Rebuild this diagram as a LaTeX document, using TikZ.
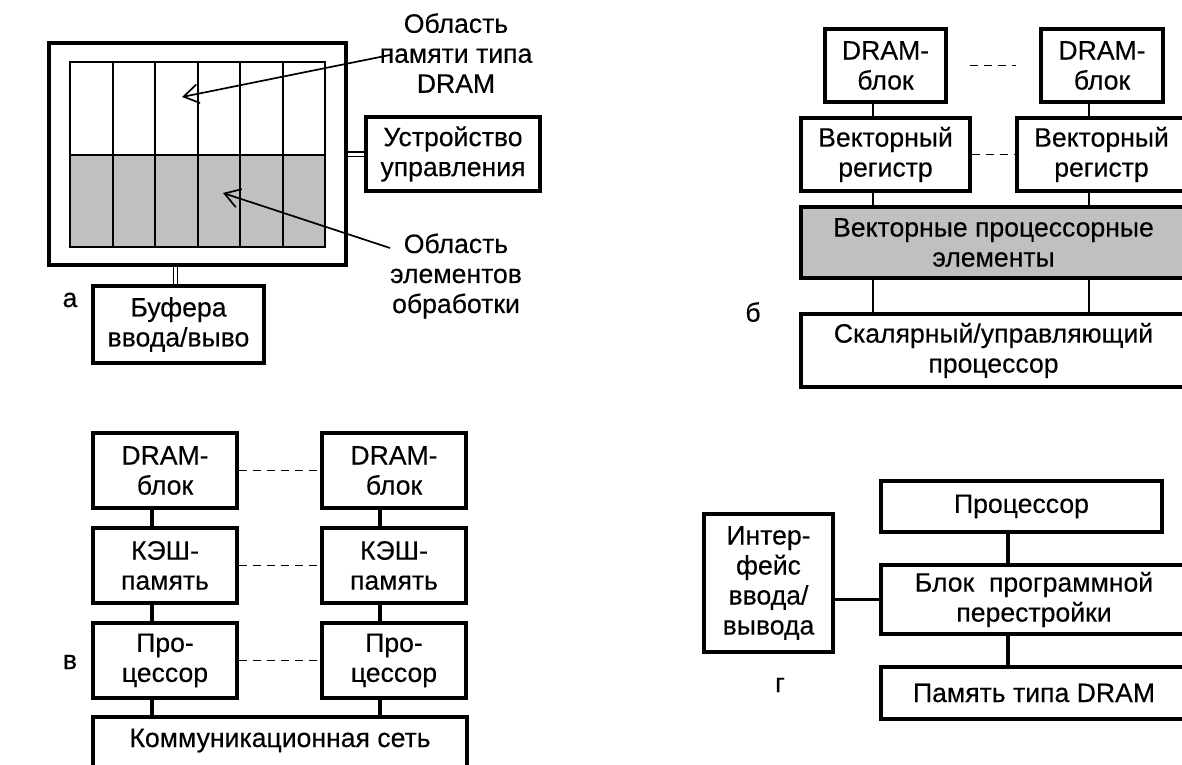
\documentclass[tikz,border=0pt]{standalone}
\usepackage{fontspec}
\setmainfont{Liberation Sans}[FakeBold=0.3]
\usetikzlibrary{arrows.meta}
\definecolor{peGray}{RGB}{192,192,192}
\begin{document}
\begin{tikzpicture}[x=1bp,y=-1bp,
  lbl/.style={font=\fontsize{26.6bp}{30bp}\selectfont, align=center, inner sep=0pt},
  box/.style={lbl, draw, line width=3.2bp},
  thinlink/.style={line width=1.7bp},
  thicklink/.style={line width=3.2bp},
  dotlink/.style={line width=1.7bp, dash pattern=on 8bp off 6bp},
  dbl/.style={double, double distance=3bp, line width=1.4bp},
  pointer/.style={line width=1.7bp, -{Straight Barb[length=15bp,width=19bp,line width=1.7bp]}},
  cell/.style={line width=2bp}
]
\useasboundingbox (0,0) rectangle (1182,765);
\clip (0,0) rectangle (1182,765);

% ---------- (а) memory chip with processing elements ----------
\node[box, line width=3.6bp, minimum width=297bp, minimum height=222bp] (frame) at (197.5,154) {};
\fill[peGray] (70,155) rectangle (325,247);
\draw[cell] (70,62) rectangle (325,247);
\draw[cell] (70,155) -- (325,155);
\foreach \i in {1,...,5} \draw[cell] ({70+42.5*\i},62) -- ({70+42.5*\i},247);

\node[box, minimum width=174bp, minimum height=74bp] (ctrl) at (453,154) {Устройство\\управления};
\node[box, minimum width=171bp, minimum height=77bp] (buf) at (178.5,324.5) {Буфера\\ввода/выво};
\node[lbl] (dramArea) at (456,53) {Область\\памяти типа\\DRAM};
\node[lbl] (peArea) at (456,276) {Область\\элементов\\обработки};
\node[lbl] (capA) at (70,300) {а};

\draw[dbl] (frame.east) -- (ctrl.west);
\draw[dbl] ([xshift=-3bp]buf.north) -- ([xshift=-3bp]buf.north |- frame.south);

\coordinate (tailA) at (390,55);
\coordinate (tipA) at (182,97);
\coordinate (tailB) at (390,248);
\coordinate (tipB) at (223,193);
\draw[pointer] (tailA) -- (tipA);
\draw[pointer] (tailB) -- (tipB);

% ---------- (б) vector processor in memory ----------
\node[box, minimum width=121bp, minimum height=73bp] (d1) at (885.5,65.5) {DRAM-\\блок};
\node[box, minimum width=122bp, minimum height=73bp] (d2) at (1102,65.5) {DRAM-\\блок};
\node[box, minimum width=169bp, minimum height=73bp] (v1) at (885.5,154.5) {Векторный\\регистр};
\node[box, minimum width=169bp, minimum height=73bp] (v2) at (1101.5,154.5) {Векторный\\регистр};
\node[box, fill=peGray, minimum width=385bp, minimum height=71bp] (vpe) at (993.5,242.5) {Векторные процессорные\\элементы};
\node[box, minimum width=385bp, minimum height=73bp] (scal) at (993.5,350.5) {Скалярный/управляющий\\процессор};
\node[lbl] (capB) at (753,312) {б};

\coordinate (colB1) at (873,0);
\coordinate (colB2) at (1089,0);
\foreach \c/\top/\mid in {colB1/d1/v1, colB2/d2/v2} {
  \draw[thinlink] (\top.south -| \c) -- (\mid.north -| \c);
  \draw[thinlink] (\mid.south -| \c) -- (vpe.north -| \c);
  \draw[thinlink] (vpe.south -| \c) -- (scal.north -| \c);
}
\draw[dotlink] ([xshift=22bp]d1.east) -- ([xshift=-23bp]d2.west);
\draw[dotlink] (v1.east) -- (v2.west);

% ---------- (в) multiprocessor with cache ----------
\foreach \s/\x in {l/165, r/394} {
  \node[box, minimum width=144bp, minimum height=75bp] (\s1) at (\x,470.5) {DRAM-\\блок};
  \node[box, minimum width=144bp, minimum height=75bp] (\s2) at (\x,565.5) {КЭШ-\\память};
  \node[box, minimum width=144bp, minimum height=75bp] (\s3) at (\x,660.5) {Про-\\цессор};
}
\node[box, minimum width=374bp, minimum height=74bp, text height=19bp, text depth=33bp] (net) at (280,754) {Коммуникационная сеть};
\node[lbl] (capC) at (70,662) {в};

\coordinate (colC1) at (152,0);
\coordinate (colC2) at (380,0);
\foreach \c/\s in {colC1/l, colC2/r} {
  \draw[thicklink] (\s1.south -| \c) -- (\s2.north -| \c);
  \draw[thicklink] (\s2.south -| \c) -- (\s3.north -| \c);
  \draw[thicklink] (\s3.south -| \c) -- (net.north -| \c);
}
\foreach \i in {1,2,3} \draw[dotlink] (l\i.east) -- (r\i.west);

% ---------- (г) reconfigurable processor ----------
\node[box, minimum width=281bp, minimum height=51bp] (proc) at (1021.5,506.5) {Процессор};
\node[box, minimum width=129bp, minimum height=138bp] (io) at (768.5,583) {Интер-\\фейс\\ввода/\\вывода};
\node[box, minimum width=306bp, minimum height=69bp] (reconf) at (1034,599.5) {Блок\ \ программной\\перестройки};
\node[box, minimum width=306bp, minimum height=52bp] (mem) at (1034,693) {Память типа DRAM};
\node[lbl] (capD) at (780,685) {г};

\coordinate (colD) at (1008,0);
\draw[thicklink] (proc.south -| colD) -- (reconf.north -| colD);
\draw[thicklink] (reconf.south -| colD) -- (mem.north -| colD);
\draw[thicklink] (reconf.west) -- (reconf.west -| io.east);
\end{tikzpicture}
\end{document}
